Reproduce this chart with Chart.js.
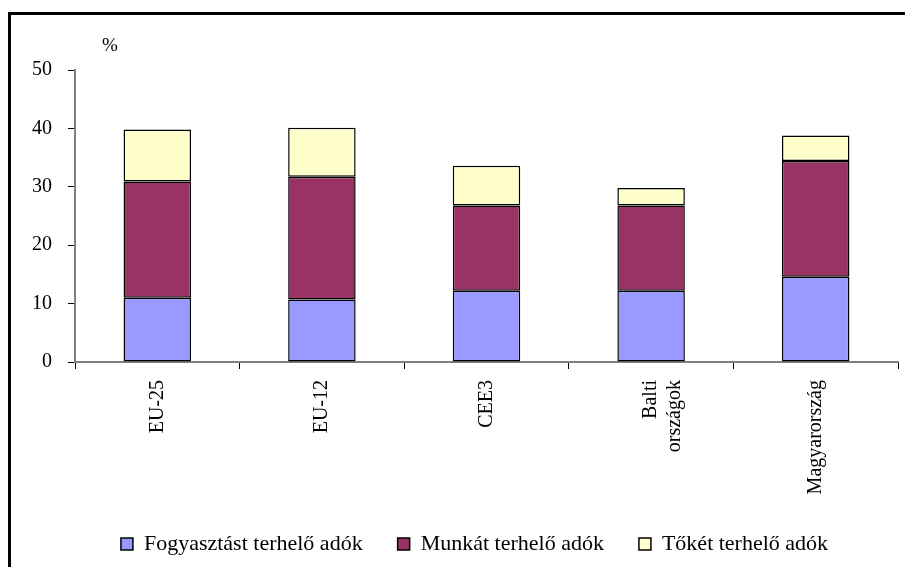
<!DOCTYPE html>
<html>
<head>
<meta charset="utf-8">
<script src="https://cdn.jsdelivr.net/npm/chart.js@4.4.1/dist/chart.umd.min.js"></script>
<style>
    html, body { margin: 0; padding: 0; background: #fff; }
    #wrap { position: relative; width: 905px; height: 567px; }
</style>
</head>
<body>
<div id="wrap"><canvas id="taxChart" width="905" height="567"></canvas></div>
<script>
// categories and series (% of GDP)
const countries = ["EU-25", "EU-12", "CEE3", ["Balti", "országok"], "Magyarország"];
const consumptionTax = [11.0, 10.7, 12.2, 12.2, 14.6];
const labourTax = [19.9, 21.0, 14.6, 14.6, 19.8];
const capitalTax = [8.9, 8.4, 6.8, 3.0, 4.4];
const seriesNames = ["Fogyasztást terhelő adók", "Munkát terhelő adók", "Tőkét terhelő adók"];
const yTicks = [0, 10, 20, 30, 40, 50];

const serif = "'Liberation Serif', 'DejaVu Serif', serif";

// frame lines and the unit label above the y axis
const decorations = {
    id: "decorations",
    afterLayout(chart) {
        // centre the legend row a bit right of the canvas middle
        if (chart.legend) chart.legend.left = 51;
    },
    afterDraw(chart) {
        const ctx = chart.ctx;
        ctx.save();
        ctx.fillStyle = "#000";
        ctx.fillRect(8, 12, 3, 567);
        ctx.fillRect(8, 12, 905, 3);
        ctx.font = "19px " + serif;
        ctx.textAlign = "center";
        ctx.textBaseline = "middle";
        ctx.fillText("%", 110, 46);
        ctx.restore();
    }
};

function makeDataset(label, data, color) {
    return {
        label: label,
        data: data,
        backgroundColor: color,
        borderColor: "#000",
        borderWidth: 1.5,
        borderSkipped: false,
        categoryPercentage: 1,
        barPercentage: 0.41
    };
}

new Chart(document.getElementById("taxChart"), {
    type: "bar",
    data: {
        labels: countries,
        datasets: [
            makeDataset(seriesNames[0], consumptionTax, "#9999FF"),
            makeDataset(seriesNames[1], labourTax, "#993366"),
            makeDataset(seriesNames[2], capitalTax, "#FFFFCC")
        ]
    },
    options: {
        responsive: false,
        animation: false,
        layout: { padding: { top: 70, right: 7, bottom: 2, left: 0 } },
        plugins: {
            tooltip: { enabled: false },
            legend: {
                position: "bottom",
                labels: {
                    color: "#000",
                    font: { family: serif, size: 22 },
                    boxWidth: 12,
                    boxHeight: 12,
                    padding: 35,
                    generateLabels(chart) {
                        return chart.data.datasets.map((ds, i) => ({
                            text: ds.label,
                            fillStyle: ds.backgroundColor,
                            strokeStyle: "#000",
                            lineWidth: 1.5,
                            datasetIndex: i
                        }));
                    }
                }
            }
        },
        scales: {
            x: {
                stacked: true,
                afterFit(scale) { scale.height = 136; },
                border: { color: "#808080", width: 2 },
                grid: { offset: true, drawOnChartArea: false, tickLength: 7, color: "#000" },
                ticks: {
                    color: "#000",
                    font: { family: serif, size: 20 },
                    minRotation: 90,
                    maxRotation: 90,
                    padding: 11
                }
            },
            y: {
                stacked: true,
                min: 0,
                max: 50,
                afterFit(scale) { scale.width = 75; },
                afterBuildTicks(scale) { scale.ticks = yTicks.map(v => ({ value: v })); },
                border: { color: "#808080", width: 2 },
                grid: { drawOnChartArea: false, tickLength: 7, color: "#000" },
                ticks: {
                    color: "#000",
                    font: { family: serif, size: 20 },
                    padding: 16
                }
            }
        }
    },
    plugins: [decorations]
});
</script>
</body>
</html>
